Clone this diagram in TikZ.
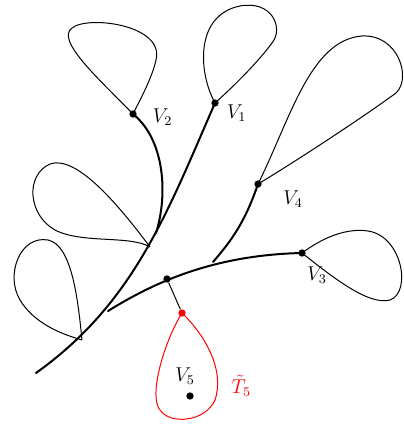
\documentclass[tikz,border=0pt]{standalone}
\usepackage{amsmath}
\usetikzlibrary{positioning}

\begin{document}
\begin{tikzpicture}[
    x=0.6pt, y=-0.6pt,
    every node/.style={font=\large},
    vtx/.style  ={circle, fill=black, inner sep=0pt, minimum size=4.4pt},
    rvtx/.style ={circle, fill=red, inner sep=0pt, minimum size=4.4pt},
    trunk/.style={very thick, line cap=round},
    leaf/.style ={semithick},
    rleaf/.style={semithick, red},
]
\useasboundingbox (0,0) rectangle (403,424);

\node[vtx] (v1) at (215,103) {};
\node[vtx] (v2) at (133,114) {};
\node[vtx] (v3) at (302,253) {};
\node[vtx] (v4) at (258,184) {};
\node[vtx] (v5) at (190,396) {};
\node[vtx] (u)  at (167,279) {};
\node[rvtx] (r) at (182,313) {};
\coordinate (root) at (36,373);
\coordinate (a) at (82,340);
\coordinate (b) at (108,311);
\coordinate (c) at (150,247);
\coordinate (d) at (156,233);
\coordinate (e) at (213,262);

\node[right=6pt of v2, yshift=-2pt] (l2) {$V_2$};
\node[below right=-4pt and 2pt of v1] (l1) {$V_1$};
\node[below right=-1pt and 10pt of v4] (l4) {$V_4$};
\node[below right=3pt and -2pt of v3] (l3) {$V_3$};
\node[above=1pt of v5, xshift=-3pt] (l5) {$V_5$};
\node[red, right=19pt of v5, yshift=6pt] (lt) {$\tilde T_5$};

% the tree
\draw[trunk] (root) .. controls (134,303) and (167,213) .. (v1.center);
\draw[trunk] (v2.center) .. controls (165,140) and (168,195) .. (d);
\draw[trunk] (b) .. controls (150,285) and (210,255) .. (v3.center);
\draw[trunk] (v4.center) .. controls (245,222) and (232,240) .. (e);
\draw[leaf] (u) -- (r);

% loops
\draw[leaf] (v2.center) .. controls (100,80) and (55,40) .. (72,28)
    .. controls (88,15) and (165,25) .. (156,60)
    .. controls (152,78) and (140,100) .. (v2.center);
\draw[leaf] (v1.center) .. controls (198,72) and (195,15) .. (240,6)
    .. controls (272,0) and (284,28) .. (272,43)
    .. controls (258,62) and (235,85) .. (v1.center);
\draw[leaf] (v4.center) .. controls (290,120) and (310,40) .. (362,36)
    .. controls (398,34) and (412,78) .. (396,93)
    .. controls (362,118) and (290,165) .. (v4.center);
\draw[leaf] (v3.center) .. controls (325,236) and (348,228) .. (368,231)
    .. controls (402,236) and (412,292) .. (390,300)
    .. controls (368,306) and (330,275) .. (v3.center);
\draw[leaf] (c) .. controls (115,200) and (75,155) .. (50,164)
    .. controls (25,175) and (28,215) .. (55,230)
    .. controls (82,244) and (130,235) .. (c);
\draw[leaf] (a) .. controls (78,300) and (72,245) .. (48,240)
    .. controls (20,235) and (5,275) .. (20,300)
    .. controls (35,325) and (65,335) .. (a);
\draw[rleaf] (r.center) .. controls (165,340) and (148,395) .. (160,410)
    .. controls (170,425) and (205,422) .. (215,400)
    .. controls (225,370) and (205,335) .. (r.center);
\end{tikzpicture}
\end{document}
